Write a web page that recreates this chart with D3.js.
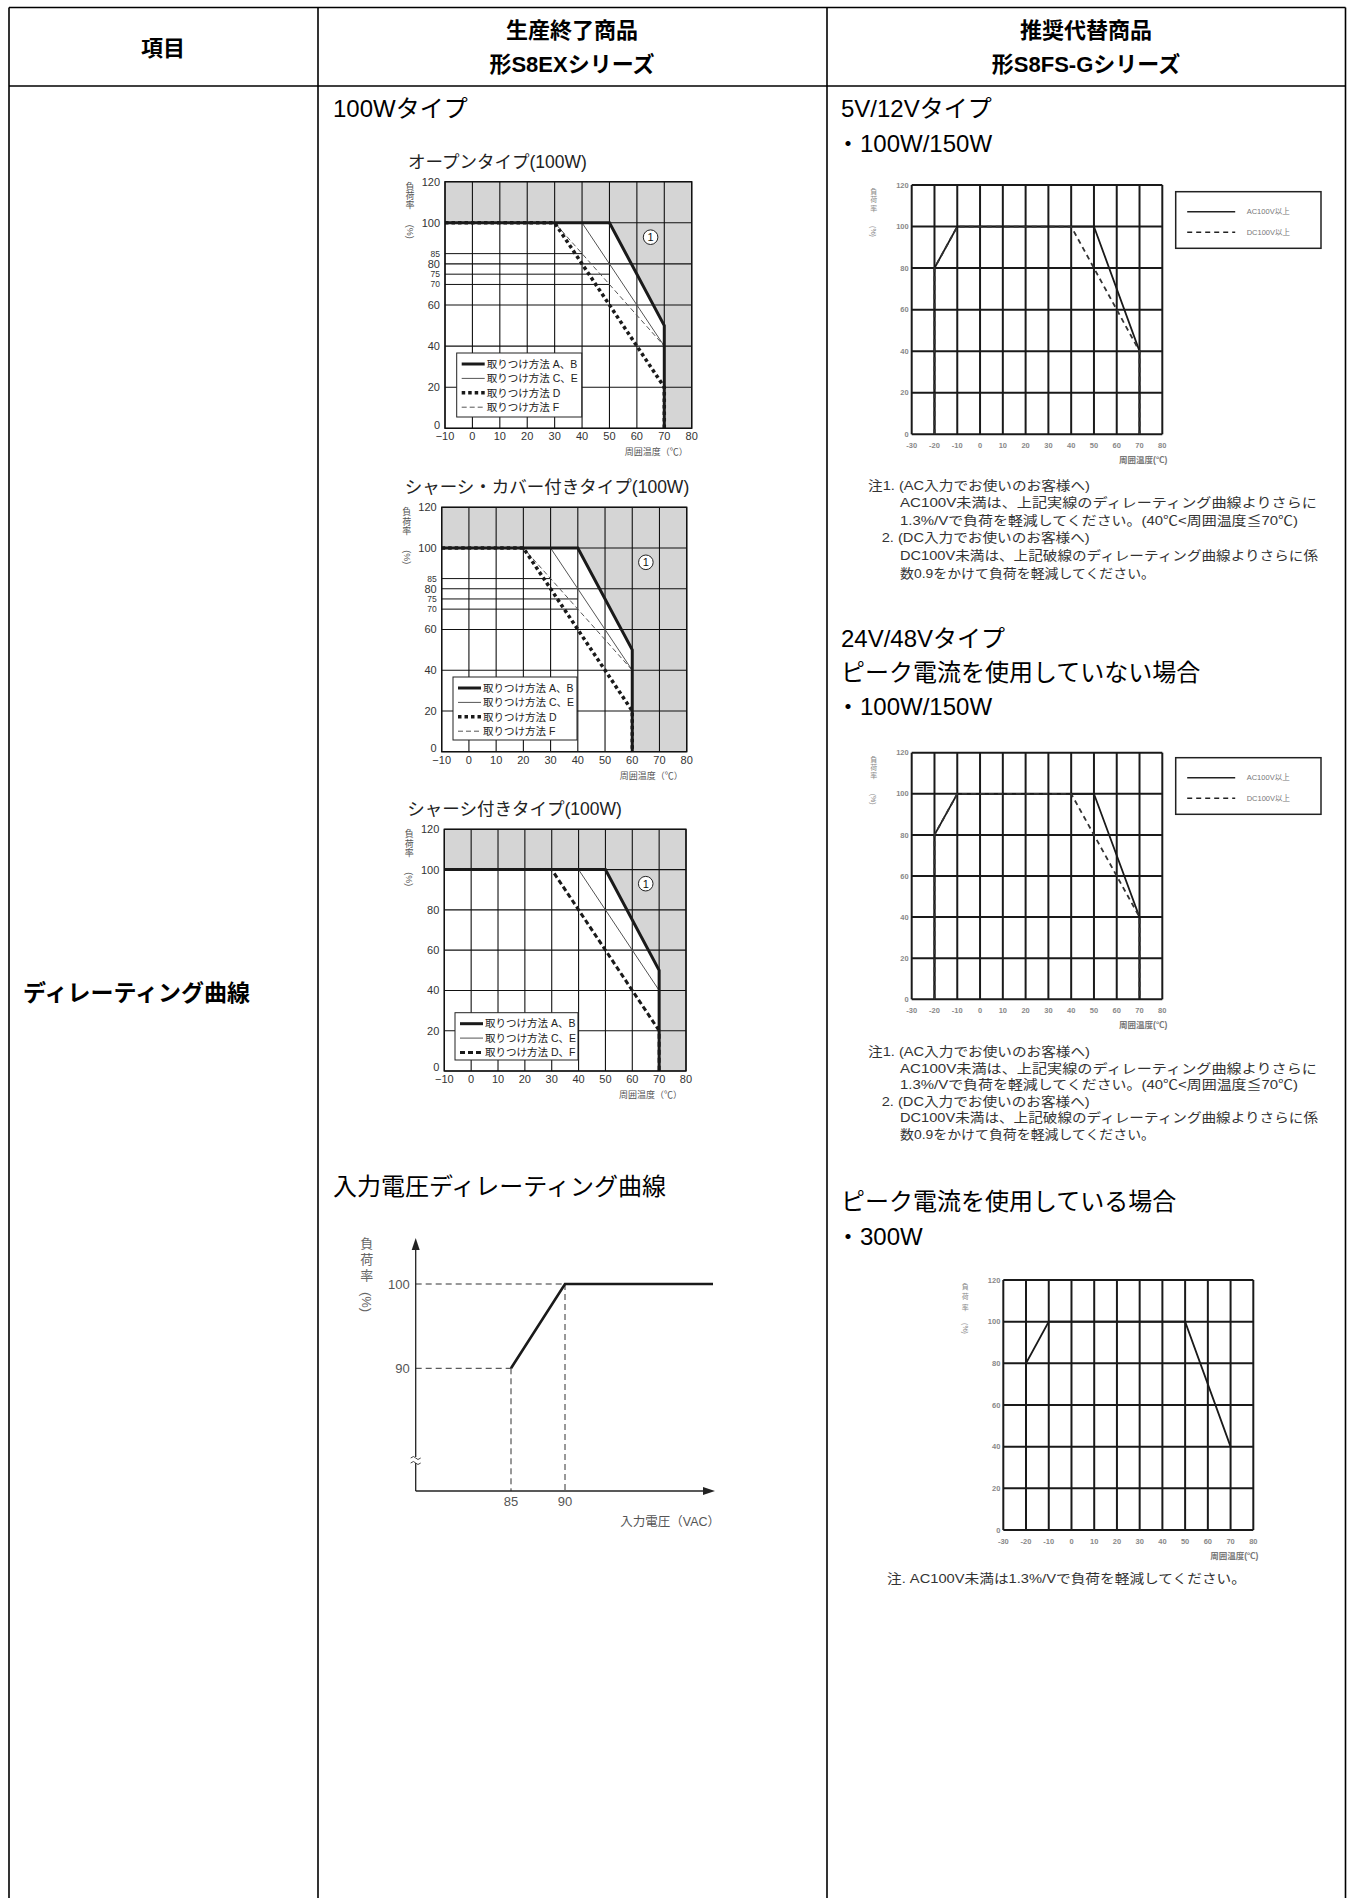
<!DOCTYPE html>
<html>
<head>
<meta charset="utf-8">
<script src="https://cdn.jsdelivr.net/npm/d3@7"></script>
<style>
body { margin:0; background:#fff; }
svg { display:block; font-family:"Liberation Sans", Arial, "Noto Sans CJK JP", sans-serif; }
</style>
</head>
<body>
<script>

// ---------------- data ----------------
var headLabel = "項目";
var headOld = ["生産終了商品", "形S8EXシリーズ"];
var headNew = ["推奨代替商品", "形S8FS-Gシリーズ"];
var rowLabel = "ディレーティング曲線";

var tempTicksOld = [-10, 0, 10, 20, 30, 40, 50, 60, 70, 80];
var tempTicksNew = [-30, -20, -10, 0, 10, 20, 30, 40, 50, 60, 70, 80];
var loadTicks = [0, 20, 40, 60, 80, 100, 120];

// S8EX open type (100W)  [temp, load%]
var openAB = [[-10,100],[50,100],[70,50],[70,0]];
var openCE = [[-10,100],[40,100],[70,40],[70,0]];
var openD  = [[-10,100],[30,100],[70,20],[70,0]];
var openF  = [[-10,100],[30,100],[70,40]];
var openMinor = [[85,40],[75,50],[70,50]];   // [load, temp where the line stops]

// S8EX chassis + cover type (100W)
var coverAB = [[-10,100],[40,100],[60,50],[60,0]];
var coverCE = [[-10,100],[30,100],[60,40],[60,0]];
var coverD  = [[-10,100],[20,100],[60,20],[60,0]];
var coverF  = [[-10,100],[20,100],[60,40]];
var coverMinor = [[85,30],[75,40],[70,40]];

// S8EX chassis type (100W)
var chassisAB = [[-10,100],[50,100],[70,50],[70,0]];
var chassisCE = [[-10,100],[40,100],[70,40],[70,0]];
var chassisDF = [[-10,100],[30,100],[70,20],[70,0]];

var legendOpen = ["取りつけ方法 A、B", "取りつけ方法 C、E", "取りつけ方法 D", "取りつけ方法 F"];
var legendChassis = ["取りつけ方法 A、B", "取りつけ方法 C、E", "取りつけ方法 D、F"];
var markPoint = [65, 93];

// input voltage derating
var vinTicksX = [85, 90];
var vinTicksY = [90, 100];
var vinCurve = [[85,90],[90,100]];

// S8FS-G
var acCurve = [[-20,0],[-20,80],[-10,100],[50,100],[70,40],[70,0]];
var dcCurve = [[-20,0],[-20,80],[-10,100],[40,100],[70,40],[70,0]];
var peakCurve = [[-20,0],[-20,80],[-10,100],[50,100],[70,40]];
var legendNew = ["AC100V以上", "DC100V以上"];

var noteLines = [
  "注1. (AC入力でお使いのお客様へ)",
  "AC100V未満は、上記実線のディレーティング曲線よりさらに",
  "1.3%/Vで負荷を軽減してください。(40℃<周囲温度≦70℃)",
  "2. (DC入力でお使いのお客様へ)",
  "DC100V未満は、上記破線のディレーティング曲線よりさらに係",
  "数0.9をかけて負荷を軽減してください。"
];
var notePeak = "注. AC100V未満は1.3%/Vで負荷を軽減してください。";

// ---------------- styles ----------------
var lineStyle = {
  ab: {w: 3, c: "#1a1a1a", dash: null},
  ce: {w: 1, c: "#555", dash: null},
  d:  {w: 3.5, c: "#1a1a1a", dash: "3.5,3"},
  f:  {w: 1, c: "#555", dash: "5,3"},
  df: {w: 3, c: "#1a1a1a", dash: "5,3"},
  ac: {w: 1.8, c: "#1a1a1a", dash: null},
  dc: {w: 1.8, c: "#333", dash: "5,4"}
};

var svg = d3.select("body").append("svg")
    .attr("width", 1347)
    .attr("height", 1898);

svg.append("rect").attr("width", 1347).attr("height", 1898).attr("fill", "#fff");

// ---------------- table ----------------
var tableLines = [[9,7.5,1345.5,7.5],[9,86,1345.5,86],[9,7.5,9,1898],[318,7.5,318,1898],[827,7.5,827,1898],[1345.5,7.5,1345.5,1898]];
svg.append("g").selectAll("line").data(tableLines).enter().append("line")
    .attr("x1", d => d[0]).attr("y1", d => d[1]).attr("x2", d => d[2]).attr("y2", d => d[3])
    .attr("stroke", "#000").attr("stroke-width", 1.6);

var head = svg.append("g").attr("font-size", 22).attr("font-weight", "bold").attr("text-anchor", "middle").attr("fill", "#000");
head.append("text").attr("x", 163).attr("y", 56).text(headLabel);
headOld.forEach(function(t, i){ head.append("text").attr("x", 572).attr("y", 38 + i*34).text(t); });
headNew.forEach(function(t, i){ head.append("text").attr("x", 1086).attr("y", 38 + i*34).text(t); });

svg.append("text").attr("x", 23).attr("y", 1001).attr("font-size", 23).attr("font-weight", "bold").text(rowLabel);

function bodyText(x, y, t){
  svg.append("text").attr("x", x).attr("y", y).attr("font-size", 24).attr("fill", "#000").text(t);
}
bodyText(333, 117, "100Wタイプ");
bodyText(333, 1195, "入力電圧ディレーティング曲線");
bodyText(841, 117, "5V/12Vタイプ");
bodyText(836, 152, "・100W/150W");
bodyText(841, 647, "24V/48Vタイプ");
bodyText(841, 681, "ピーク電流を使用していない場合");
bodyText(836, 715, "・100W/150W");
bodyText(841, 1210, "ピーク電流を使用している場合");
bodyText(836, 1245, "・300W");

// vertical "負荷率(%)" label
function yTitle(x, top, size, step, pctOff, color){
  var g = svg.append("g").attr("fill", color).attr("font-size", size).attr("text-anchor", "middle");
  ["負","荷","率"].forEach(function(c, i){
    g.append("text").attr("x", x).attr("y", top + i*step).attr("dy", "0.35em").text(c);
  });
  g.append("text").attr("transform", "translate(" + x + "," + (top + pctOff) + ") rotate(90)")
    .attr("dy", "0.35em").text("(%)");
}

function minus(d){ return d < 0 ? "−" + (-d) : String(d); }

// ---------------- S8EX temperature charts ----------------
function drawOld(cfg){
  var x = d3.scaleLinear().domain([-10, 80]).range([0, cfg.w]);
  var y = d3.scaleLinear().domain([0, 120]).range([cfg.h, 0]);
  var line = d3.line().x(d => x(d[0])).y(d => y(d[1]));

  svg.append("text").attr("x", cfg.left - 37).attr("y", cfg.top - 14)
    .attr("font-size", 17.5).attr("fill", "#222").text(cfg.title);

  var g = svg.append("g").attr("transform", "translate(" + cfg.left + "," + cfg.top + ")");
  g.append("rect").attr("width", cfg.w).attr("height", cfg.h).attr("fill", "#fff");

  // shaded zone: above 100% and right of the A,B curve
  var ab = cfg.curves[0];
  var gray = [[-10,120],[80,120],[80,0]].concat(ab.slice().reverse());
  g.append("path").attr("d", line(gray) + "Z").attr("fill", "#d5d5d5");

  g.selectAll(".gx").data(tempTicksOld).enter().append("line")
    .attr("x1", d => x(d)).attr("x2", d => x(d)).attr("y1", 0).attr("y2", cfg.h)
    .attr("stroke", "#111").attr("stroke-width", 1.1);
  g.selectAll(".gy").data(loadTicks).enter().append("line")
    .attr("x1", 0).attr("x2", cfg.w).attr("y1", d => y(d)).attr("y2", d => y(d))
    .attr("stroke", "#111").attr("stroke-width", 1.1);
  if (cfg.minor) {
    g.selectAll(".gm").data(cfg.minor).enter().append("line")
      .attr("x1", 0).attr("x2", d => x(d[1])).attr("y1", d => y(d[0])).attr("y2", d => y(d[0]))
      .attr("stroke", "#111").attr("stroke-width", 1);
  }

  // curves, thin ones first
  var order = cfg.curves.map((c, i) => i).sort((a, b) => lineStyle[cfg.styles[a]].w - lineStyle[cfg.styles[b]].w);
  order.forEach(function(i){
    var s = lineStyle[cfg.styles[i]];
    g.append("path").attr("d", line(cfg.curves[i])).attr("fill", "none")
      .attr("stroke", s.c).attr("stroke-width", s.w).attr("stroke-dasharray", s.dash)
      .attr("stroke-linejoin", "miter");
  });

  g.append("rect").attr("width", cfg.w).attr("height", cfg.h).attr("fill", "none")
    .attr("stroke", "#111").attr("stroke-width", 1.4);

  // legend
  var L = cfg.legend;
  var lg = g.append("g").attr("transform", "translate(" + L[0] + "," + L[1] + ")");
  lg.append("rect").attr("width", L[2]).attr("height", L[3]).attr("fill", "#fff")
    .attr("stroke", "#222").attr("stroke-width", 1);
  cfg.labels.forEach(function(t, i){
    var s = lineStyle[cfg.styles[i]];
    var yy = 11 + i*14.4;
    lg.append("line").attr("x1", 5).attr("x2", 28).attr("y1", yy).attr("y2", yy)
      .attr("stroke", s.c).attr("stroke-width", s.w).attr("stroke-dasharray", s.dash);
    lg.append("text").attr("x", 30).attr("y", yy).attr("dy", "0.36em")
      .attr("font-size", 10.5).attr("fill", "#222").text(t);
  });

  // circled 1
  g.append("circle").attr("cx", x(markPoint[0])).attr("cy", y(markPoint[1])).attr("r", 7.3)
    .attr("fill", "#fff").attr("stroke", "#222").attr("stroke-width", 1);
  g.append("text").attr("x", x(markPoint[0])).attr("y", y(markPoint[1])).attr("dy", "0.36em")
    .attr("text-anchor", "middle").attr("font-size", 11).attr("fill", "#111").text("1");

  // tick labels
  g.selectAll(".ty").data(loadTicks).enter().append("text")
    .attr("x", -5).attr("y", d => d === 0 ? y(d) - 3.5 : y(d)).attr("dy", "0.36em").attr("text-anchor", "end")
    .attr("font-size", 11).attr("fill", "#333").text(d => d);
  if (cfg.minor) {
    g.selectAll(".tm").data(cfg.minor).enter().append("text")
      .attr("x", -5).attr("y", d => y(d[0])).attr("dy", "0.36em").attr("text-anchor", "end")
      .attr("font-size", 8.5).attr("fill", "#333").text(d => d[0]);
  }
  g.selectAll(".tx").data(tempTicksOld).enter().append("text")
    .attr("x", d => x(d)).attr("y", cfg.h + 12).attr("text-anchor", "middle")
    .attr("font-size", 11).attr("fill", "#333").text(minus);
  g.append("text").attr("x", cfg.w - 4).attr("y", cfg.h + 27).attr("text-anchor", "end")
    .attr("font-size", 9).attr("fill", "#555").text("周囲温度（℃）");

  yTitle(cfg.left - 35, cfg.top + 5, 9, 9.3, 45, "#555");
}

drawOld({left: 445, top: 181.7, w: 246.7, h: 246.6, title: "オープンタイプ(100W)",
  curves: [openAB, openCE, openD, openF], styles: ["ab","ce","d","f"], labels: legendOpen,
  minor: openMinor, legend: [11.7, 171.3, 125, 64]});
drawOld({left: 441.7, top: 507.3, w: 245, h: 244.4, title: "シャーシ・カバー付きタイプ(100W)",
  curves: [coverAB, coverCE, coverD, coverF], styles: ["ab","ce","d","f"], labels: legendOpen,
  minor: coverMinor, legend: [11.3, 169.7, 124, 63]});
drawOld({left: 444.3, top: 829.3, w: 241.7, h: 241.7, title: "シャーシ付きタイプ(100W)",
  curves: [chassisAB, chassisCE, chassisDF], styles: ["ab","ce","df"], labels: legendChassis,
  minor: null, legend: [10.7, 183.4, 123, 47.3]});

// ---------------- input voltage derating ----------------
(function(){
  var vx = d3.scaleLinear().domain(vinTicksX).range([511, 565]);
  var vy = d3.scaleLinear().domain(vinTicksY).range([1368.3, 1284]);
  var ox = 415.7, oy = 1491, xEnd = 715, yEnd = 1238, lineEnd = 713;
  var g = svg.append("g");

  // guide lines
  vinCurve.forEach(function(p){
    g.append("line").attr("x1", ox).attr("x2", vx(p[0])).attr("y1", vy(p[1])).attr("y2", vy(p[1]))
      .attr("stroke", "#333").attr("stroke-width", 1).attr("stroke-dasharray", "6,4");
    g.append("line").attr("x1", vx(p[0])).attr("x2", vx(p[0])).attr("y1", vy(p[1])).attr("y2", oy)
      .attr("stroke", "#333").attr("stroke-width", 1).attr("stroke-dasharray", "6,4");
  });

  // axes with arrows
  g.append("line").attr("x1", ox).attr("x2", ox).attr("y1", oy).attr("y2", yEnd + 8)
    .attr("stroke", "#222").attr("stroke-width", 1.3);
  g.append("line").attr("x1", ox).attr("x2", xEnd - 8).attr("y1", oy).attr("y2", oy)
    .attr("stroke", "#222").attr("stroke-width", 1.3);
  g.append("path").attr("d", "M" + ox + "," + yEnd + "L" + (ox - 4) + "," + (yEnd + 12) + "L" + (ox + 4) + "," + (yEnd + 12) + "Z").attr("fill", "#222");
  g.append("path").attr("d", "M" + xEnd + "," + oy + "L" + (xEnd - 12) + "," + (oy - 4) + "L" + (xEnd - 12) + "," + (oy + 4) + "Z").attr("fill", "#222");

  // axis break
  g.append("rect").attr("x", ox - 6).attr("y", 1457).attr("width", 12).attr("height", 6).attr("fill", "#fff");
  g.append("path").attr("d", "M" + (ox - 5) + ",1458 q3,-3 5,0 t5,0 M" + (ox - 5) + ",1463 q3,-3 5,0 t5,0")
    .attr("fill", "none").attr("stroke", "#444").attr("stroke-width", 1);

  // derating line
  var pts = vinCurve.concat([[vx.invert(lineEnd), vinCurve[vinCurve.length - 1][1]]]);
  g.append("path").attr("d", d3.line().x(d => vx(d[0])).y(d => vy(d[1]))(pts))
    .attr("fill", "none").attr("stroke", "#1a1a1a").attr("stroke-width", 2.6);

  g.selectAll(".vy").data(vinTicksY).enter().append("text")
    .attr("x", ox - 6).attr("y", d => vy(d)).attr("dy", "0.36em").attr("text-anchor", "end")
    .attr("font-size", 13).attr("fill", "#555").text(d => d);
  g.selectAll(".vx").data(vinTicksX).enter().append("text")
    .attr("x", d => vx(d)).attr("y", oy + 15).attr("text-anchor", "middle")
    .attr("font-size", 13).attr("fill", "#555").text(d => d);
  g.append("text").attr("x", 720).attr("y", 1526).attr("text-anchor", "end")
    .attr("font-size", 12.5).attr("fill", "#555").text("入力電圧（VAC）");
  yTitle(366.7, 1243, 13, 16, 59, "#666");
})();

// ---------------- S8FS-G temperature charts ----------------
function drawNew(cfg){
  var x = d3.scaleLinear().domain([-30, 80]).range([0, cfg.w]);
  var y = d3.scaleLinear().domain([0, 120]).range([cfg.h, 0]);
  var line = d3.line().x(d => x(d[0])).y(d => y(d[1]));
  var g = svg.append("g").attr("transform", "translate(" + cfg.left + "," + cfg.top + ")");

  g.selectAll(".gx").data(tempTicksNew).enter().append("line")
    .attr("x1", d => x(d)).attr("x2", d => x(d)).attr("y1", 0).attr("y2", cfg.h)
    .attr("stroke", "#1a1a1a").attr("stroke-width", 2);
  g.selectAll(".gy").data(loadTicks).enter().append("line")
    .attr("x1", 0).attr("x2", cfg.w).attr("y1", d => y(d)).attr("y2", d => y(d))
    .attr("stroke", "#1a1a1a").attr("stroke-width", 2);

  cfg.curves.forEach(function(c, i){
    var s = lineStyle[cfg.styles[i]];
    g.append("path").attr("d", line(c)).attr("fill", "none")
      .attr("stroke", s.c).attr("stroke-width", s.w).attr("stroke-dasharray", s.dash);
  });

  g.selectAll(".ty").data(loadTicks).enter().append("text")
    .attr("x", -3).attr("y", d => y(d)).attr("dy", "0.36em").attr("text-anchor", "end")
    .attr("font-size", 7.5).attr("font-weight", "bold").attr("fill", "#888").text(d => d);
  g.selectAll(".tx").data(tempTicksNew).enter().append("text")
    .attr("x", d => x(d)).attr("y", cfg.h + 14).attr("text-anchor", "middle")
    .attr("font-size", 7.5).attr("font-weight", "bold").attr("fill", "#888").text(d => d);
  g.append("text").attr("x", cfg.w + 5).attr("y", cfg.h + 29).attr("text-anchor", "end")
    .attr("font-size", 8.5).attr("font-weight", "bold").attr("fill", "#777").text("周囲温度(℃)");

  yTitle(cfg.left - 38, cfg.top + 6.5, 7, cfg.yStep, cfg.pctOff, "#888");

  if (cfg.legend) {
    var L = cfg.legend;
    var lg = svg.append("g").attr("transform", "translate(" + L[0] + "," + L[1] + ")");
    lg.append("rect").attr("width", L[2]).attr("height", L[3]).attr("fill", "#fff")
      .attr("stroke", "#222").attr("stroke-width", 1.5);
    legendNew.forEach(function(t, i){
      var s = lineStyle[cfg.styles[i]];
      var yy = 20 + i*20.6;
      lg.append("line").attr("x1", 11.5).attr("x2", 59.5).attr("y1", yy).attr("y2", yy)
        .attr("stroke", "#222").attr("stroke-width", 1.5).attr("stroke-dasharray", s.dash);
      lg.append("text").attr("x", 71).attr("y", yy).attr("dy", "0.36em")
        .attr("font-size", 7.5).attr("fill", "#777").text(t);
    });
  }
}

function drawNotes(top, step){
  var xs = [868, 900, 900, 881.7, 900, 900];
  var ws = [222, 417, 398, 208, 418, 255];
  noteLines.forEach(function(t, i){
    svg.append("text").attr("x", xs[i]).attr("y", top + i*step).attr("dy", "0.36em")
      .attr("font-size", 13).attr("fill", "#333")
      .attr("textLength", ws[i]).attr("lengthAdjust", "spacingAndGlyphs").text(t);
  });
}

drawNew({left: 911.7, top: 185, w: 250.6, h: 249.3, curves: [acCurve, dcCurve], styles: ["ac","dc"],
  legend: [1175.7, 191.7, 145.3, 56.6], yStep: 8.3, pctOff: 40});
drawNotes(485, 17.6);

drawNew({left: 911.7, top: 752.7, w: 250.6, h: 246.6, curves: [acCurve, dcCurve], styles: ["ac","dc"],
  legend: [1175.7, 757.7, 145.3, 56.6], yStep: 8.3, pctOff: 40});
drawNotes(1051.7, 16.5);

drawNew({left: 1003.3, top: 1280, w: 250, h: 250, curves: [peakCurve], styles: ["ac"],
  legend: null, yStep: 10.5, pctOff: 42});
svg.append("text").attr("x", 887).attr("y", 1578).attr("dy", "0.36em")
  .attr("font-size", 13).attr("fill", "#333")
  .attr("textLength", 359).attr("lengthAdjust", "spacingAndGlyphs").text(notePeak);

</script>
</body>
</html>
